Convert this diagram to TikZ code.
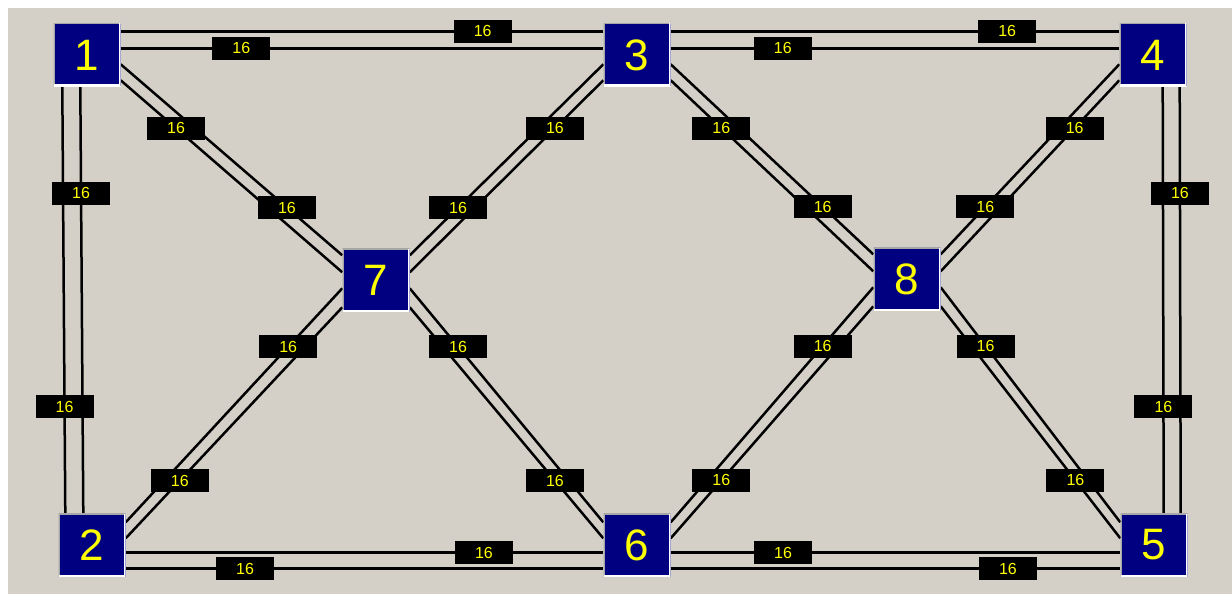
\documentclass[tikz,border=0pt]{standalone}
\usepackage{fontspec}
\setmainfont{Liberation Sans}
\usetikzlibrary{calc}
\definecolor{bgc}{RGB}{212,208,200}
\definecolor{navyc}{RGB}{0,0,128}
\definecolor{yel}{RGB}{255,255,0}
\pgfdeclarelayer{front}
\pgfsetlayers{main,front}
\tikzset{
  router/.style={rectangle, fill=navyc, minimum width=67pt, minimum height=63pt,
    inner sep=0pt, text=yel, font=\fontsize{44}{44}\selectfont,
    path picture={
      \draw[line width=2pt, draw=gray!70] (path picture bounding box.south west) --
        (path picture bounding box.north west) -- (path picture bounding box.north east);
      \draw[line width=4pt, draw=white] (path picture bounding box.north east) --
        (path picture bounding box.south east) -- (path picture bounding box.south west);
    }},
  link/.style={draw=black, line width=2.5pt},
  lab/.style={fill=black, text=yel, minimum width=58pt, minimum height=23pt,
    inner sep=0pt, font=\fontsize{16}{16}\selectfont},
}
\newcommand\mylink[6]{\draw[link] ($(#1)+(#2)$) -- coordinate[pos=#6] (#5) ($(#3)+(#4)$);}
\begin{document}
\begin{tikzpicture}[x=1pt,y=-1pt]
\useasboundingbox (0,0) rectangle (1232,594);
\fill[white] (0,0) rectangle (1232,594);
\fill[bgc] (8,8) rectangle (1232,594);
\begin{pgfonlayer}{front}
\node[router] (n1) at (87,55) {1};
\node[router] (n3) at (637,55) {3};
\node[router] (n4) at (1153,55) {4};
\node[router] (n7) at (376,280) {7};
\node[router] (n8) at (907,279) {8};
\node[router] (n2) at (92,545) {2};
\node[router] (n6) at (637,545) {6};
\node[router] (n5) at (1154,545) {5};
\end{pgfonlayer}
% top horizontals
\mylink{n1.north east}{0,8}{n3.north west}{0,8}{la1}{.75}
\mylink{n1.north east}{0,25}{n3.north west}{0,25}{la2}{.25}
\mylink{n3.north east}{0,8}{n4.north west}{0,8}{la3}{.75}
\mylink{n3.north east}{0,25}{n4.north west}{0,25}{la4}{.25}
% bottom horizontals
\mylink{n2.south east}{0,-24}{n6.south west}{0,-24}{la5}{.75}
\mylink{n2.south east}{0,-8}{n6.south west}{0,-8}{la6}{.25}
\mylink{n6.south east}{0,-24}{n5.south west}{0,-24}{la7}{.25}
\mylink{n6.south east}{0,-8}{n5.south west}{0,-8}{la8}{.75}
% verticals
\mylink{n1.south west}{9,0}{n2.north west}{7,0}{la9}{.75}
\mylink{n1.south west}{27,0}{n2.north west}{25,0}{la10}{.25}
\mylink{n4.south east}{-24,0}{n5.north east}{-24,0}{la11}{.75}
\mylink{n4.south east}{-7,0}{n5.north east}{-7,0}{la12}{.25}
% upper diagonals
\mylink{n1.north east}{0,41}{n7.north west}{0,7}{la13}{.75}
\mylink{n1.north east}{0,57}{n7.north west}{0,24}{la14}{.25}
\mylink{n3.north west}{0,41}{n7.north east}{0,7}{la15}{.75}
\mylink{n3.north west}{0,57}{n7.north east}{0,24}{la16}{.25}
\mylink{n3.north east}{0,41}{n8.north west}{0,7}{la17}{.75}
\mylink{n3.north east}{0,57}{n8.north west}{0,24}{la18}{.25}
\mylink{n4.north west}{0,41}{n8.north east}{0,7}{la19}{.75}
\mylink{n4.north west}{0,57}{n8.north east}{0,24}{la20}{.25}
% lower diagonals
\mylink{n7.north west}{0,40}{n2.north east}{0,9}{la21}{.25}
\mylink{n7.north west}{0,59}{n2.north east}{0,25}{la22}{.75}
\mylink{n7.north east}{0,40}{n6.north west}{0,9}{la23}{.25}
\mylink{n7.north east}{0,59}{n6.north west}{0,25}{la24}{.75}
\mylink{n8.north west}{0,40}{n6.north east}{0,9}{la25}{.25}
\mylink{n8.north west}{0,59}{n6.north east}{0,25}{la26}{.75}
\mylink{n8.north east}{0,40}{n5.north west}{0,9}{la27}{.25}
\mylink{n8.north east}{0,59}{n5.north west}{0,25}{la28}{.75}
% labels
\foreach \c in {la1,la2,la3,la4,la5,la6,la7,la8,la9,la10,la11,la12,la13,la14,
  la15,la16,la17,la18,la19,la20,la21,la22,la23,la24,la25,la26,la27,la28}
  \node[lab] (t\c) at (\c) {16};
\end{tikzpicture}
\end{document}
